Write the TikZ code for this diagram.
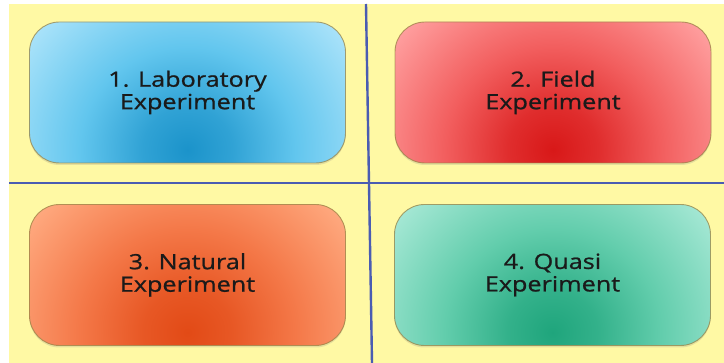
\documentclass[tikz,border=0pt]{standalone}
\usepackage{fontspec}
\newfontfamily\cardfont[FakeStretch=1.2,FakeBold=1.3]{Open Sans}
\usetikzlibrary{shadows}

% palette
\definecolor{paper}{HTML}{FFF9A4}
\definecolor{divider}{HTML}{4A5CB2}
\definecolor{cardedge}{HTML}{9A8446}
\definecolor{ink}{HTML}{1A1A1A}

\definecolor{blueDark}{HTML}{1B93CA}
\definecolor{blueMid}{HTML}{62C6EE}
\definecolor{blueLight}{HTML}{ABE3FA}
\definecolor{redDark}{HTML}{D81818}
\definecolor{redMid}{HTML}{F25E5E}
\definecolor{redLight}{HTML}{FFA0A0}
\definecolor{orangeDark}{HTML}{E24A16}
\definecolor{orangeMid}{HTML}{F47848}
\definecolor{orangeLight}{HTML}{FFAA80}
\definecolor{greenDark}{HTML}{1FA57C}
\definecolor{greenMid}{HTML}{62CDAC}
\definecolor{greenLight}{HTML}{A6E8D5}

% elliptical glow, darkest in the middle and fading out well inside the rim
\newcommand\cardglow[2]{%
  \pgfdeclareradialshading{#1}{\pgfpointorigin}{%
    color(0bp)=(#2Dark); color(5bp)=(#2Dark!70!#2Mid); color(12bp)=(#2Mid);
    color(22bp)=(#2Light); color(50bp)=(#2Light)}}
\cardglow{glowblue}{blue}
\cardglow{glowred}{red}
\cardglow{gloworange}{orange}
\cardglow{glowgreen}{green}

\tikzset{
  card/.style={rounded corners=30pt, minimum width=316pt, minimum height=141pt,
    draw=cardedge, draw opacity=0.75, line width=0.9pt,
    drop shadow={shadow xshift=0pt, shadow yshift=-2pt, opacity=0.2},
    fill=#1Light,
    path picture={\shade[shading=glow#1]
      ([yshift=13pt]path picture bounding box.south) ellipse [x radius=225, y radius=215];},
    align=center, text=ink, font=\cardfont\fontsize{21}{22.5}\selectfont},
  rule/.style={draw=divider, line width=2.4pt}
}

\begin{document}
\begin{tikzpicture}[x=1pt,y=-1pt]
  \path[use as bounding box] (0,0) rectangle (724,363);
  \fill[paper] (9,4) rectangle (724,363);

  % quadrant dividers
  \coordinate (vtop) at (366,4);
  \coordinate (vbot) at (372,363);
  \coordinate (hleft) at (9,183);
  \coordinate (hright) at (724,183);
  \draw[rule] (vtop) -- (vbot);
  \draw[rule] (hleft) -- (hright);

  % the four kinds of experiment
  \node[card=blue] (lab) at (187.5,92.5) {1. Laboratory\\Experiment};
  \node[card=red] (field) at (553,92.5) {2. Field\\Experiment};
  \node[card=orange] (natural) at (187.5,275) {3. Natural\\Experiment};
  \node[card=green] (quasi) at (552.5,275) {4. Quasi\\Experiment};
\end{tikzpicture}
\end{document}
